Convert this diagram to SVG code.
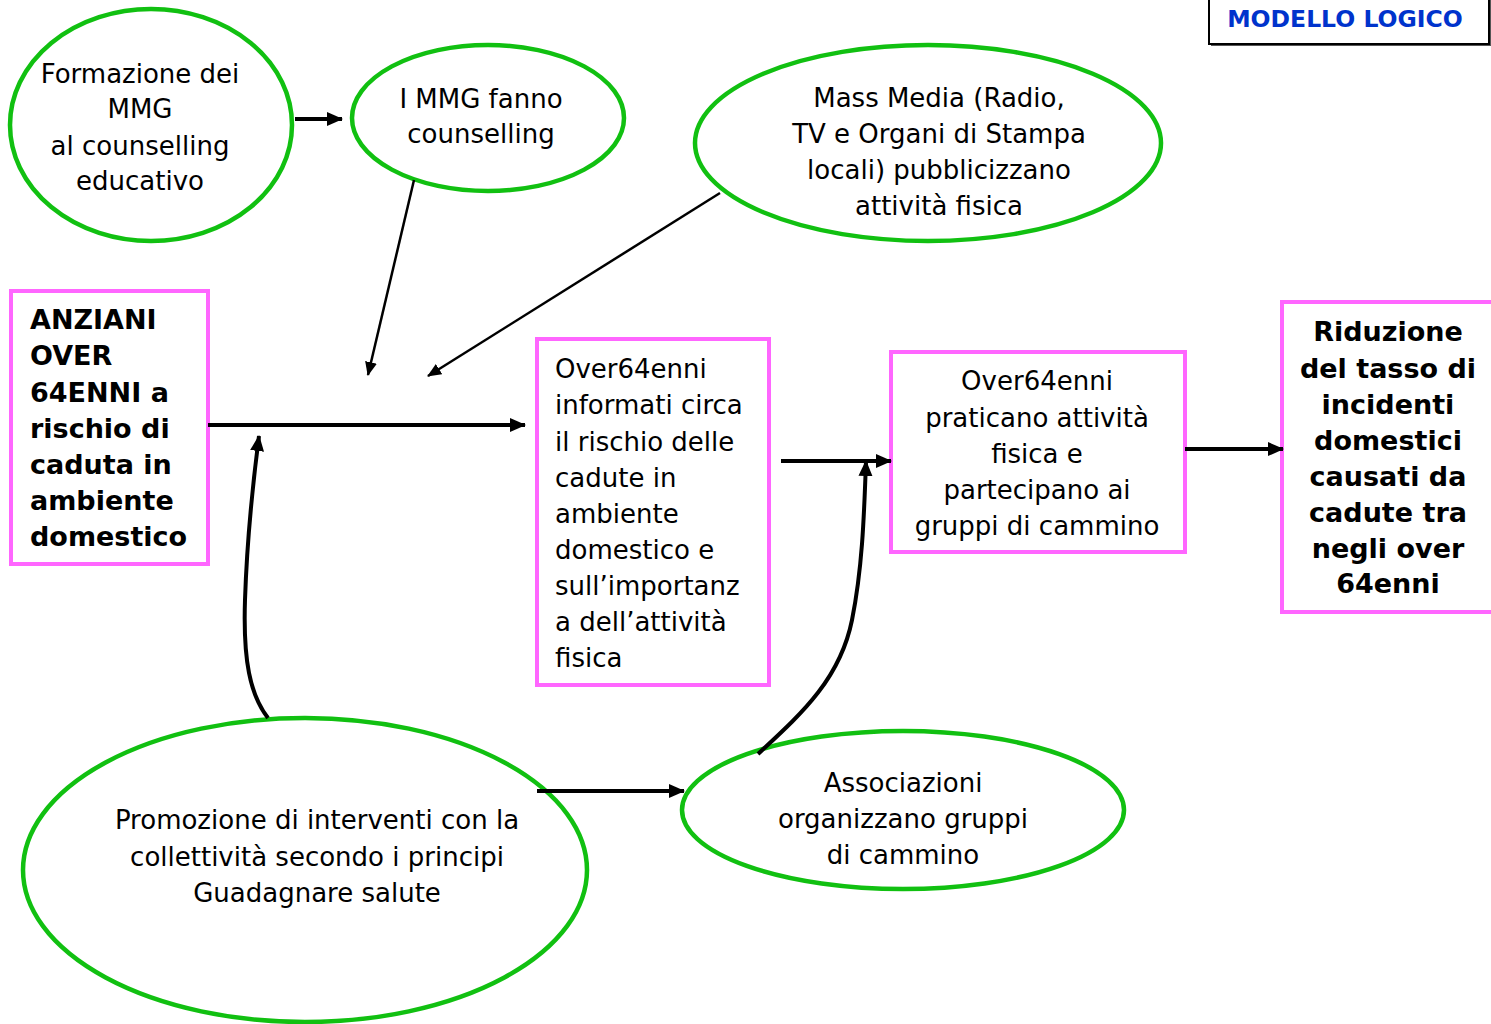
<svg xmlns="http://www.w3.org/2000/svg" width="1491" height="1024" viewBox="0 0 1491 1024">
<style>
.ell{fill:#ffffff;stroke:#11c011;stroke-width:4.5}
.box{fill:#ffffff;stroke:#ff66ff;stroke-width:4}
.t{font-family:"DejaVu Sans","Liberation Sans",sans-serif;font-size:26px;fill:#000}
.c{text-anchor:middle}
.b{font-weight:bold;font-size:27px}
.ln{fill:none;stroke:#000;stroke-width:4}
.thin{fill:none;stroke:#000;stroke-width:2.5}
</style>
<defs>
<marker id="ah" viewBox="0 0 16 14" refX="15" refY="7" markerWidth="16" markerHeight="14" markerUnits="userSpaceOnUse" orient="auto">
<path d="M0,0 L16,7 L0,14 z" fill="#000"/>
</marker>
<marker id="ahs" viewBox="0 0 14 12" refX="13" refY="6" markerWidth="14" markerHeight="12" markerUnits="userSpaceOnUse" orient="auto">
<path d="M0,0 L14,6 L0,12 z" fill="#000"/>
</marker>
</defs>
<rect width="1491" height="1024" fill="#fff"/>

<g id="title">
<rect x="1211" y="-6" width="280" height="52" fill="#555"/>
<rect x="1209" y="-8" width="280" height="52" fill="#fff" stroke="#000" stroke-width="2"/>
<text x="1345" y="27" text-anchor="middle" style="font-family:'DejaVu Sans','Liberation Sans',sans-serif;font-weight:bold;font-size:23.5px;fill:#0033cc">MODELLO LOGICO</text>
</g>

<g id="formazione">
<ellipse class="ell" cx="151" cy="125" rx="141" ry="116"/>
<text class="t c" x="140"><tspan x="140" y="83">Formazione dei</tspan><tspan x="140" y="118">MMG</tspan><tspan x="140" y="155">al counselling</tspan><tspan x="140" y="190">educativo</tspan></text>
</g>

<g id="mmg">
<ellipse class="ell" cx="488" cy="118" rx="136" ry="73"/>
<text class="t c"><tspan x="481" y="108">I MMG fanno</tspan><tspan x="481" y="143">counselling</tspan></text>
</g>

<g id="massmedia">
<ellipse class="ell" cx="928" cy="143" rx="233" ry="98"/>
<text class="t c"><tspan x="939" y="107">Mass Media (Radio,</tspan><tspan x="939" y="143">TV e Organi di Stampa</tspan><tspan x="939" y="179">locali) pubblicizzano</tspan><tspan x="939" y="215">attività fisica</tspan></text>
</g>

<g id="anziani">
<rect class="box" x="11" y="291" width="197" height="273"/>
<text class="t b"><tspan x="30" y="329">ANZIANI</tspan><tspan x="30" y="365">OVER</tspan><tspan x="30" y="402">64ENNI a</tspan><tspan x="30" y="438">rischio di</tspan><tspan x="30" y="474">caduta in</tspan><tspan x="30" y="510">ambiente</tspan><tspan x="30" y="546">domestico</tspan></text>
</g>

<g id="informati">
<rect class="box" x="537" y="339" width="232" height="346"/>
<text class="t"><tspan x="555" y="378">Over64enni</tspan><tspan x="555" y="414">informati circa</tspan><tspan x="555" y="451">il rischio delle</tspan><tspan x="555" y="487">cadute in</tspan><tspan x="555" y="523">ambiente</tspan><tspan x="555" y="559">domestico e</tspan><tspan x="555" y="595">sull’importanz</tspan><tspan x="555" y="631">a dell’attività</tspan><tspan x="555" y="667">fisica</tspan></text>
</g>

<g id="praticano">
<rect class="box" x="891" y="352" width="294" height="200"/>
<text class="t c"><tspan x="1037" y="390">Over64enni</tspan><tspan x="1037" y="427">praticano attività</tspan><tspan x="1037" y="463">fisica e</tspan><tspan x="1037" y="499">partecipano ai</tspan><tspan x="1037" y="535">gruppi di cammino</tspan></text>
</g>

<g id="riduzione">
<rect class="box" x="1282" y="302" width="240" height="310"/>
<text class="t b c"><tspan x="1388" y="341">Riduzione</tspan><tspan x="1388" y="378">del tasso di</tspan><tspan x="1388" y="414">incidenti</tspan><tspan x="1388" y="450">domestici</tspan><tspan x="1388" y="486">causati da</tspan><tspan x="1388" y="522">cadute tra</tspan><tspan x="1388" y="558">negli over</tspan><tspan x="1388" y="593">64enni</tspan></text>
</g>

<g id="promozione">
<ellipse class="ell" cx="305" cy="870" rx="282" ry="152"/>
<text class="t c"><tspan x="317" y="829">Promozione di interventi con la</tspan><tspan x="317" y="866">collettività secondo i principi</tspan><tspan x="317" y="902">Guadagnare salute</tspan></text>
</g>

<g id="associazioni">
<ellipse class="ell" cx="903" cy="810" rx="221" ry="79"/>
<text class="t c"><tspan x="903" y="792">Associazioni</tspan><tspan x="903" y="828">organizzano gruppi</tspan><tspan x="903" y="864">di cammino</tspan></text>
</g>

<g id="connectors">
<path class="ln" d="M295,119 L342,119" marker-end="url(#ah)"/>
<path class="thin" d="M414,180 L368,375" marker-end="url(#ahs)"/>
<path class="thin" d="M720,193 L428,376" marker-end="url(#ahs)"/>
<path class="ln" d="M208,425 L525,425" marker-end="url(#ah)"/>
<path class="ln" d="M268,718 C250,695 243,660 245,600 C247,540 252,490 259,436" marker-end="url(#ah)"/>
<path class="ln" d="M781,461 L891,461" marker-end="url(#ah)"/>
<path class="ln" d="M758,754 C800,715 840,680 852,620 C862,570 864,520 866,461" marker-end="url(#ah)"/>
<path class="ln" d="M1185,449 L1283,449" marker-end="url(#ah)"/>
<path class="ln" d="M537,791 L684,791" marker-end="url(#ah)"/>
</g>
</svg>
